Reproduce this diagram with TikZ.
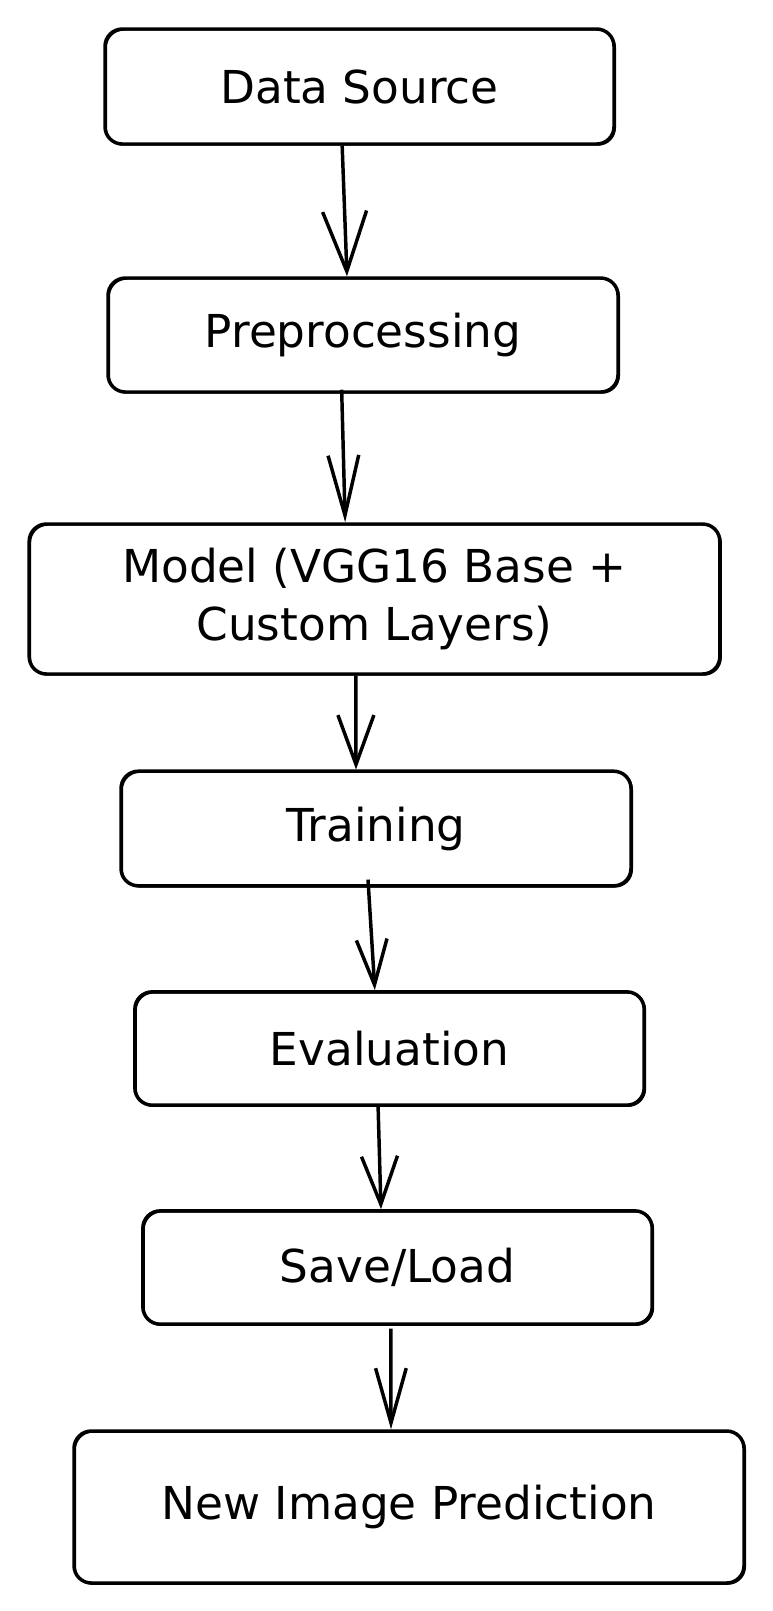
\documentclass[tikz,border=0pt]{standalone}
\usepackage{fontspec}
\setmainfont{DejaVu Sans}
\usetikzlibrary{arrows.meta}

\tikzset{every picture/.style={line width=2.6pt}}
\tikzset{
  stagebox/.style={draw, line width=2.6pt, rounded corners=13pt, align=center, inner sep=0pt,
    font=\fontsize{34}{43}\selectfont,
    postaction={draw, line width=1pt, transform canvas={xshift=1pt, yshift=-0.8pt}}},
  flow/.style 2 args={line width=2.6pt, -{Straight Barb[length=#1, width=#2]}}
}

\begin{document}
\begin{tikzpicture}[x=0.75pt,y=0.75pt,yscale=-1,xscale=1]
\useasboundingbox (0,0) rectangle (773,1611);

% Boxes
\node [stagebox, minimum width=381.75pt, minimum height=86.25pt] (src) at (359.5,86.5) {Data Source};
\node [stagebox, minimum width=382.5pt, minimum height=85.5pt] (prep) at (363,335) {Preprocessing};
\node [stagebox, minimum width=518pt, minimum height=112.5pt] (model) at (374.5,599) {Model (VGG16 Base +\\Custom Layers)};
\node [stagebox, minimum width=382.5pt, minimum height=86pt] (train) at (376,828.5) {Training};
\node [stagebox, minimum width=382pt, minimum height=85pt] (eval) at (389.5,1048.5) {Evaluation};
\node [stagebox, minimum width=382pt, minimum height=85pt] (save) at (397.5,1267.5) {Save/Load};
\node [stagebox, minimum width=502.5pt, minimum height=114pt] (pred) at (409,1507) {New Image Prediction};

% Connections
\draw [flow={45pt}{33pt}] ([xshift=-13pt]src.south) -- ([xshift=-12pt]prep.north);
\draw [flow={45pt}{23pt}] ([xshift=-16pt,yshift=-3pt]prep.south) -- ([xshift=-22pt]model.north);
\draw [flow={37pt}{27pt}] ([xshift=-14pt]model.south) -- ([xshift=-15pt]train.north);
\draw [flow={34pt}{23pt}] ([xshift=-6pt,yshift=-6pt]train.south) -- ([xshift=-11pt]eval.north);
\draw [flow={36pt}{27pt}] ([xshift=-8.6pt,yshift=-2pt]eval.south) -- ([xshift=-12.4pt]save.north);
\draw [flow={41pt}{23pt}] ([xshift=-5pt,yshift=2pt]save.south) -- ([xshift=-13.5pt]pred.north);

\end{tikzpicture}
\end{document}
